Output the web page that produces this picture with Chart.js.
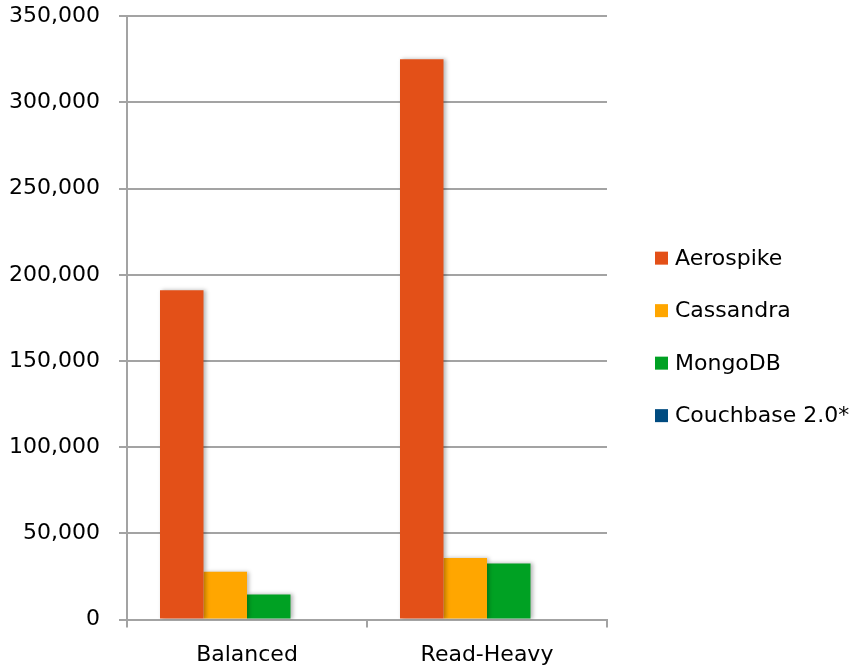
<!DOCTYPE html>
<html>
<head>
<meta charset="utf-8">
<script src="https://cdn.jsdelivr.net/npm/chart.js@4/dist/chart.umd.min.js"></script>
<style>
html,body{margin:0;padding:0;background:#fff;overflow:hidden;width:857px;height:669px;}
#wrap{position:absolute;left:0;top:-16px;width:857px;height:700px;}
</style>
</head>
<body>
<div id="wrap"><canvas id="c"></canvas></div>
<script>
const categories = ["Balanced", "Read-Heavy"];
const seriesNames = ["Aerospike", "Cassandra", "MongoDB", "Couchbase 2.0*"];
const aerospike = [191000, 325000];
const cassandra = [27800, 35700];
const mongodb = [14600, 32600];
const couchbase = [0, 0];
const seriesColors = ["#E35018", "#FFA600", "#00A123", "#004B80"];
const yTicks = [0, 50000, 100000, 150000, 200000, 250000, 300000, 350000];

const seriesValues = [aerospike, cassandra, mongodb, couchbase];
const FONT = "'DejaVu Sans', Verdana, sans-serif";
const FSIZE = 22;

const shadowPlugin = {
  id: 'barShadow',
  beforeDatasetsDraw(chart) {
    const ctx = chart.ctx;
    ctx.save();
    ctx.shadowColor = 'rgba(0,0,0,0.28)';
    ctx.shadowBlur = 4;
    ctx.shadowOffsetX = 2;
    ctx.shadowOffsetY = 0;
  },
  afterDatasetsDraw(chart) {
    chart.ctx.restore();
  }
};

// Legend drawn to the right of the plot area, items vertically centred.
const sideLegend = {
  id: 'sideLegend',
  afterDraw(chart) {
    const ctx = chart.ctx;
    const area = chart.chartArea;
    const ds = chart.data.datasets;
    const rowGap = 52.5;
    const box = 13;
    const boxX = area.right + 48;
    const textX = boxX + box + 7;
    const midY = (area.top + area.bottom) / 2 + 20;
    const startY = midY - rowGap * (ds.length - 1) / 2;
    ctx.save();
    ctx.font = FSIZE + "px " + FONT;
    ctx.textBaseline = 'middle';
    ctx.textAlign = 'left';
    ds.forEach((d, i) => {
      const y = startY + i * rowGap;
      ctx.fillStyle = d.backgroundColor;
      ctx.fillRect(boxX, y - box / 2 - 1, box, box);
      ctx.fillStyle = '#000';
      ctx.fillText(d.label, textX, y);
    });
    ctx.restore();
  }
};

new Chart(document.getElementById('c'), {
  type: 'bar',
  data: {
    labels: categories,
    datasets: seriesNames.map((n, i) => ({
      label: n,
      data: seriesValues[i],
      backgroundColor: seriesColors[i],
      borderWidth: 0,
      barPercentage: 1.0,
      categoryPercentage: 0.725
    }))
  },
  plugins: [shadowPlugin, sideLegend],
  options: {
    responsive: true,
    maintainAspectRatio: false,
    animation: false,
    devicePixelRatio: 1,
    layout: { padding: { top: 0, left: 0, right: 250, bottom: 2 }, autoPadding: false },
    plugins: {
      tooltip: { enabled: false },
      legend: { display: false }
    },
    scales: {
      x: {
        grid: {
          offset: true,
          drawOnChartArea: false,
          drawTicks: true,
          tickLength: 8,
          color: '#a3a3a3',
          lineWidth: 2
        },
        border: { display: true, color: '#a3a3a3', width: 2 },
        ticks: {
          font: { family: FONT, size: FSIZE },
          color: '#000',
          padding: 14
        }
      },
      y: {
        min: 0,
        max: 350000,
        afterBuildTicks(axis) { axis.ticks = yTicks.map(v => ({ value: v })); },
        afterFit(axis) { axis.width = 127; },
        grid: {
          color: '#a3a3a3',
          lineWidth: 2,
          drawTicks: true,
          tickLength: 8
        },
        border: { display: true, color: '#a3a3a3', width: 2 },
        ticks: {
          font: { family: FONT, size: FSIZE },
          color: '#000',
          padding: 19,
          callback: v => v.toLocaleString('en-US')
        }
      }
    }
  }
});
</script>
</body>
</html>
